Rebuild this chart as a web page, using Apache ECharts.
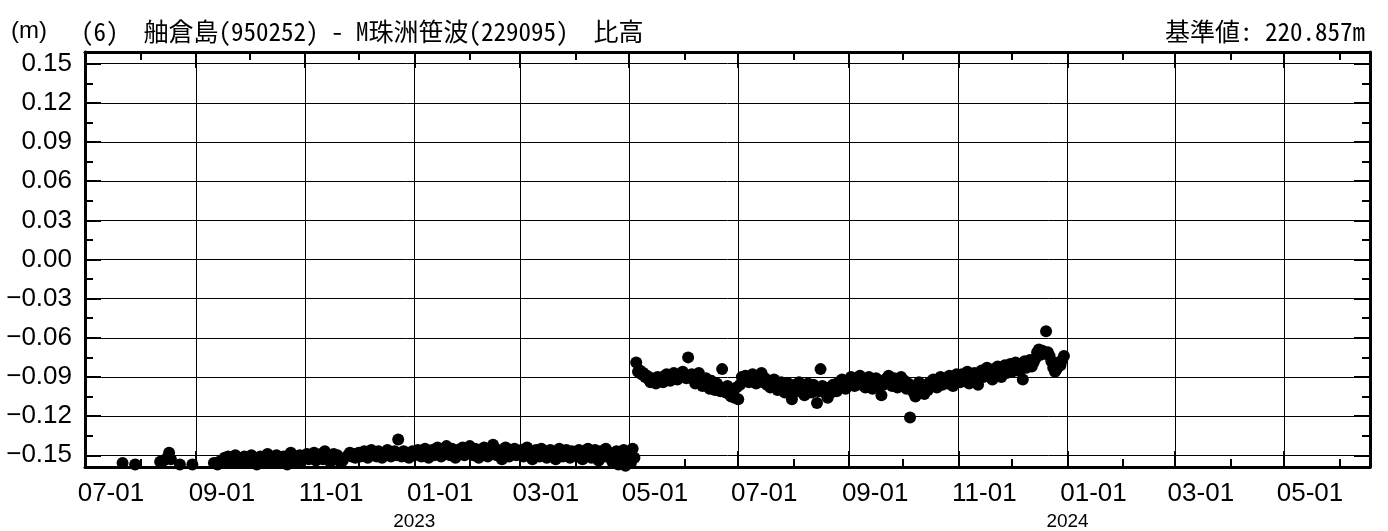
<!DOCTYPE html>
<html>
<head>
<meta charset="utf-8">
<title>舳倉島 - M珠洲笹波 比高</title>
<script src="https://cdn.jsdelivr.net/npm/echarts@6/dist/echarts.min.js"></script>
<style>
  html, body { margin: 0; padding: 0; background: #fff; }
  #chart { width: 1388px; height: 531px; }
</style>
</head>
<body>
<div id="chart"></div>
<script>
  // daily values (m), null = not plotted / off scale
  var seg1Start = '2022-07-01';
  var seg1Values = [
    // 2022-07
    null, null, null, null, null, null, null, null, null, null, null, null, null, null, null, null,
    null, null, null, null, null, -0.156, null, null, null, null, null, null, -0.157, null, null,
    // 2022-08
    null, null, null, null, null, null, null, null, null, null, null, -0.155, null, -0.154, null, -0.152,
    -0.148, -0.153, null, null, null, null, -0.157, null, null, null, null, null, null, -0.157, null,
    // 2022-09
    null, null, null, null, null, null, null, null, null, null, -0.156, null, -0.157, -0.155, null,
    -0.154, -0.152, -0.155, -0.151, -0.153, -0.152, -0.156, -0.150, -0.154, -0.152, -0.155, -0.153, -0.151, -0.156, -0.154,
    // 2022-10
    -0.153, -0.150, -0.155, -0.152, -0.157, -0.154, -0.151, -0.153, -0.156, -0.152, -0.149, -0.154, -0.151, -0.155, -0.153, -0.150,
    -0.156, -0.152, -0.154, -0.151, -0.153, -0.157, -0.150, -0.148, -0.152, -0.155, -0.151, -0.153, -0.150, -0.154, -0.152,
    // 2022-11
    -0.151, -0.149, -0.153, -0.150, -0.152, -0.148, -0.154, -0.150, -0.151, -0.149, -0.153, -0.147, -0.152, -0.150, -0.155,
    -0.151, -0.149, -0.153, -0.150, -0.152, -0.156, -0.154, null, null, -0.150, -0.148, -0.151, -0.149, -0.152, -0.150,
    // 2022-12
    -0.148, -0.151, -0.149, -0.147, -0.150, -0.152, -0.148, -0.146, -0.150, -0.149, -0.151, -0.147, -0.149, -0.152, -0.148, -0.150,
    -0.146, -0.149, -0.151, -0.148, -0.147, -0.150, -0.138, -0.149, -0.151, -0.147, -0.150, -0.148, -0.152, -0.149, -0.147,
    // 2023-01
    -0.150, -0.148, -0.146, -0.149, -0.151, -0.147, -0.145, -0.149, -0.152, -0.148, -0.146, -0.150, -0.147, -0.144, -0.149, -0.151,
    -0.146, -0.148, -0.143, -0.147, -0.150, -0.145, -0.148, -0.152, -0.146, -0.149, -0.147, -0.144, -0.150, -0.148, -0.146,
    // 2023-02
    -0.143, -0.147, -0.150, -0.145, -0.148, -0.152, -0.146, -0.149, -0.144, -0.147, -0.151, -0.148, -0.145, -0.142,
    -0.147, -0.150, -0.146, -0.148, -0.153, -0.147, -0.144, -0.149, -0.151, -0.146, -0.148, -0.145, -0.150, -0.147,
    // 2023-03
    -0.149, -0.146, -0.151, -0.148, -0.144, -0.150, -0.147, -0.153, -0.149, -0.146, -0.148, -0.151, -0.145, -0.149, -0.147, -0.152,
    -0.148, -0.146, -0.150, -0.148, -0.153, -0.147, -0.145, -0.149, -0.151, -0.148, -0.146, -0.150, -0.152, -0.147, -0.149,
    // 2023-04
    -0.148, -0.151, -0.146, -0.149, -0.153, -0.147, -0.150, -0.145, -0.149, -0.152, -0.148, -0.146, -0.150, -0.154, -0.147,
    -0.149, -0.151, -0.145, -0.150, -0.148, -0.153, -0.156, -0.149, -0.147, -0.157, -0.151, -0.155, -0.146, -0.158, -0.153,
    // 2023-05-01 .. 05-04
    -0.149, -0.156, -0.145, -0.152
  ];

  var seg2Start = '2023-05-05';
  var seg2Values = [
    // 2023-05-05 ..
    -0.079, -0.086, -0.085, -0.088, -0.087, -0.090, -0.089, -0.092, -0.094, -0.091, -0.093, -0.095, -0.090, -0.092,
    -0.091, -0.094, -0.089, -0.088, -0.091, -0.093, -0.090, -0.087, -0.089, -0.092, -0.088, -0.090, -0.086,
    // 2023-06
    -0.089, -0.091, -0.075, -0.090, -0.088, -0.092, -0.095, -0.090, -0.087, -0.093, -0.097, -0.094, -0.091, -0.096, -0.099,
    -0.093, -0.098, -0.100, -0.095, -0.097, -0.101, -0.084, -0.099, -0.102, -0.097, -0.103, -0.105, -0.100, -0.106, -0.098,
    // 2023-07
    -0.107, -0.096, -0.090, -0.093, -0.089, -0.092, -0.094, -0.091, -0.088, -0.093, -0.095, -0.090, -0.092, -0.087, -0.094, -0.091,
    -0.096, -0.093, -0.098, -0.095, -0.092, -0.097, -0.100, -0.096, -0.094, -0.099, -0.102, -0.097, -0.095, -0.100, -0.107,
    // 2023-08
    -0.099, -0.096, -0.101, -0.094, -0.098, -0.097, -0.104, -0.100, -0.095, -0.099, -0.102, -0.096, -0.098, -0.110, -0.101, -0.084,
    -0.097, -0.100, -0.103, -0.106, -0.098, -0.102, -0.096, -0.099, -0.101, -0.094, -0.097, -0.092, -0.096, -0.099, -0.093,
    // 2023-09
    -0.095, -0.090, -0.093, -0.097, -0.091, -0.094, -0.089, -0.096, -0.092, -0.098, -0.094, -0.090, -0.095, -0.099, -0.093,
    -0.091, -0.097, -0.094, -0.104, -0.096, -0.092, -0.095, -0.089, -0.093, -0.097, -0.091, -0.094, -0.098, -0.092, -0.090,
    // 2023-10
    -0.096, -0.093, -0.099, -0.095, -0.121, -0.097, -0.102, -0.105, -0.099, -0.094, -0.101, -0.098, -0.103, -0.096, -0.100, -0.094,
    -0.097, -0.092, -0.095, -0.098, -0.093, -0.090, -0.096, -0.094, -0.091, -0.095, -0.089, -0.093, -0.097, -0.092, -0.088,
    // 2023-11
    -0.091, -0.094, -0.088, -0.093, -0.090, -0.086, -0.095, -0.092, -0.089, -0.087, -0.091, -0.096, -0.088, -0.085, -0.090,
    -0.087, -0.083, -0.089, -0.086, -0.092, -0.084, -0.088, -0.082, -0.086, -0.090, -0.085, -0.081, -0.087, -0.084, -0.080,
    // 2023-12
    -0.086, -0.083, -0.079, -0.085, -0.081, -0.084, -0.092, -0.078, -0.083, -0.080, -0.077, -0.082, -0.079, -0.076, -0.071,
    -0.069, -0.073, -0.070, -0.072, -0.055, -0.071, -0.074, -0.078, -0.083, -0.086, -0.084, -0.079, -0.081, -0.077, -0.074
  ];

  // axis
  var xMin = '2022-07-01';
  var xMax = '2024-06-18';
  var majorDates = ['2022-07-01', '2022-09-01', '2022-11-01', '2023-01-01', '2023-03-01', '2023-05-01',
    '2023-07-01', '2023-09-01', '2023-11-01', '2024-01-01', '2024-03-01', '2024-05-01'];
  var minorDates = ['2022-08-01', '2022-10-01', '2022-12-01', '2023-02-01', '2023-04-01', '2023-06-01',
    '2023-08-01', '2023-10-01', '2023-12-01', '2024-02-01', '2024-04-01', '2024-06-01'];
  var yearDates = ['2023-01-01', '2024-01-01'];
  var yMin = -0.159;
  var yMax = 0.159;
  var yMajor = [0.15, 0.12, 0.09, 0.06, 0.03, 0, -0.03, -0.06, -0.09, -0.12, -0.15];
  var yMinor = [0.135, 0.105, 0.075, 0.045, 0.015, -0.015, -0.045, -0.075, -0.105, -0.135];

  var titleUnit = '(m)';
  var titleMain = '(6)  舳倉島(950252) - M珠洲笹波(229095)  比高';
  var titleRef = '基準値: 220.857m';

  function toTime(s) {
    var p = s.split('-');
    return new Date(+p[0], +p[1] - 1, +p[2]).getTime();
  }

  function pad(n) {
    return n < 10 ? '0' + n : '' + n;
  }

  function buildPoints(start, values) {
    var p = start.split('-');
    var out = [];
    values.forEach(function (v, i) {
      if (v === null) return;
      out.push([new Date(+p[0], +p[1] - 1, +p[2] + i).getTime(), v]);
    });
    return out;
  }

  var points = buildPoints(seg1Start, seg1Values).concat(buildPoints(seg2Start, seg2Values));

  // month labels sit a half month right of their tick
  var labelShift = 14.5 * 86400000;
  var black = '#000';
  var labelFont = 'Liberation Sans';
  var jpFont = '"Noto Sans Mono CJK JP", "Noto Sans CJK JP"';

  // time kept as plain ms values, ticks placed by customValues
  function xAxisBase(pos) {
    return {
      type: 'value',
      min: toTime(xMin),
      max: toTime(xMax),
      position: pos,
      axisLine: { show: false, onZero: false },
      axisTick: { show: false },
      axisLabel: { show: false },
      splitLine: { show: false }
    };
  }

  function yAxisBase(pos) {
    return {
      type: 'value',
      min: yMin,
      max: yMax,
      position: pos,
      axisLine: { show: false, onZero: false },
      axisTick: { show: false },
      axisLabel: { show: false },
      splitLine: { show: false }
    };
  }

  var majorTimes = majorDates.map(toTime);
  var minorTimes = minorDates.map(toTime);

  // bottom main axis
  var xMain = xAxisBase('bottom');
  xMain.axisLine = { show: true, onZero: false, lineStyle: { color: black, width: 3 } };
  xMain.axisTick = { show: true, inside: true, length: 16, lineStyle: { color: black, width: 2 }, customValues: majorTimes };
  xMain.splitLine = { show: true, lineStyle: { color: black, width: 1 } };
  xMain.axisLabel = {
    show: true, color: black, fontSize: 26, fontFamily: labelFont, margin: 14,
    customValues: majorTimes.map(function (t) { return t + labelShift; }),
    formatter: function (v) {
      var d = new Date(v - labelShift);
      return pad(d.getMonth() + 1) + '-' + pad(d.getDate());
    }
  };

  var xYear = xAxisBase('bottom');
  xYear.axisLabel = {
    show: true, color: black, fontSize: 19, fontFamily: labelFont, margin: 45,
    customValues: yearDates.map(toTime),
    formatter: function (v) { return '' + new Date(v).getFullYear(); }
  };

  var xMinorBottom = xAxisBase('bottom');
  xMinorBottom.axisTick = { show: true, inside: true, length: 8, lineStyle: { color: black, width: 2 }, customValues: minorTimes };

  var xTop = xAxisBase('top');
  xTop.axisLine = { show: true, onZero: false, lineStyle: { color: black, width: 3 } };
  xTop.axisTick = { show: true, inside: true, length: 16, lineStyle: { color: black, width: 2 }, customValues: majorTimes };

  var xMinorTop = xAxisBase('top');
  xMinorTop.axisTick = { show: true, inside: true, length: 8, lineStyle: { color: black, width: 2 }, customValues: minorTimes };

  var yLeft = yAxisBase('left');
  yLeft.axisLine = { show: true, onZero: false, lineStyle: { color: black, width: 3 } };
  yLeft.axisTick = { show: true, inside: true, length: 16, lineStyle: { color: black, width: 2 }, customValues: yMajor };
  yLeft.splitLine = { show: true, lineStyle: { color: black, width: 1 } };
  yLeft.axisLabel = {
    show: true, color: black, fontSize: 26, fontFamily: labelFont, margin: 13,
    customValues: yMajor,
    formatter: function (v) {
      return v < 0 ? '\u2212' + Math.abs(v).toFixed(2) : v.toFixed(2);
    }
  };

  var yMinorLeft = yAxisBase('left');
  yMinorLeft.axisTick = { show: true, inside: true, length: 8, lineStyle: { color: black, width: 2 }, customValues: yMinor };

  var yRight = yAxisBase('right');
  yRight.axisLine = { show: true, onZero: false, lineStyle: { color: black, width: 3 } };
  yRight.axisTick = { show: true, inside: true, length: 16, lineStyle: { color: black, width: 2 }, customValues: yMajor };

  var yMinorRight = yAxisBase('right');
  yMinorRight.axisTick = { show: true, inside: true, length: 8, lineStyle: { color: black, width: 2 }, customValues: yMinor };

  var chart = echarts.init(document.getElementById('chart'), null, { renderer: 'canvas' });
  chart.setOption({
    animation: false,
    backgroundColor: '#fff',
    title: [{
      text: titleUnit, left: 6, top: 14,
      textStyle: { fontSize: 24, fontWeight: 'normal', color: black, fontFamily: labelFont }
    }, {
      text: titleMain, left: 76, top: 14,
      textStyle: { fontSize: 25, fontWeight: 'normal', color: black, fontFamily: jpFont }
    }, {
      text: titleRef, right: 18, top: 14,
      textStyle: { fontSize: 25, fontWeight: 'normal', color: black, fontFamily: jpFont }
    }],
    grid: { left: 85, right: 18, top: 52, bottom: 63, containLabel: false },
    xAxis: [xMain, xYear, xMinorBottom, xTop, xMinorTop],
    yAxis: [yLeft, yMinorLeft, yRight, yMinorRight],
    series: [{
      type: 'scatter',
      xAxisIndex: 0,
      yAxisIndex: 0,
      symbol: 'circle',
      symbolSize: 12,
      itemStyle: { color: black, opacity: 1 },
      data: points
    }]
  });
</script>
</body>
</html>
